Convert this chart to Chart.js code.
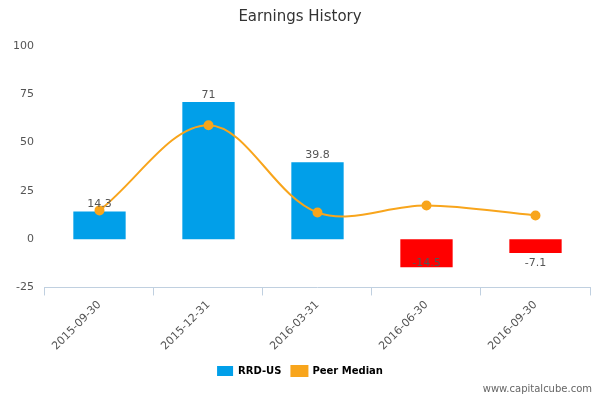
<html lang="en">
<head>
    <meta charset="UTF-8">
    <title>Earnings History</title>
    <script src="https://cdn.jsdelivr.net/npm/chart.js"></script>
    <style>
        body { margin: 0; background: #fff; }
        #wrap { position: relative; width: 600px; height: 400px; }
        #site { position: absolute; right: 8px; bottom: 6px; font: 10px "DejaVu Sans", sans-serif; color: #666; }
    </style>
</head>
<body>
<div id="wrap">
    <canvas id="grafico" width="600" height="400"></canvas>
    <div id="site">www.capitalcube.com</div>
</div>
<script>
    const periodos = ['2015-09-30', '2015-12-31', '2016-03-31', '2016-06-30', '2016-09-30'];
    const rrd = [14.3, 71, 39.8, -14.5, -7.1];
    const mediana = [14.9, 59, 13.8, 17.4, 12.3];
    const ticksY = [100, 75, 50, 25, 0, -25];

    // rotulos das barras
    const rotulos = {
        id: 'rotulos',
        afterDatasetsDraw(chart) {
            const ctx = chart.ctx;
            const meta = chart.getDatasetMeta(1);
            const zero = chart.scales.y.getPixelForValue(0);
            ctx.save();
            ctx.font = '11px "DejaVu Sans", sans-serif';
            ctx.fillStyle = '#555';
            ctx.textAlign = 'center';
            meta.data.forEach((bar, i) => {
                const v = rrd[i];
                const y = v >= 0 ? bar.y - 7 : zero + 24;
                ctx.fillText(String(v), bar.x, y);
            });
            ctx.restore();
        }
    };

    new Chart(document.getElementById('grafico'), {
        data: {
            labels: periodos,
            datasets: [{
                type: 'line',
                label: 'Peer Median',
                data: mediana,
                borderColor: '#f8a51c',
                backgroundColor: '#f8a51c',
                borderWidth: 2,
                tension: 0.35,
                pointRadius: 4,
                order: 0
            }, {
                type: 'bar',
                label: 'RRD-US',
                data: rrd,
                backgroundColor: rrd.map(v => v >= 0 ? '#019fe9' : '#ff0000'),
                barPercentage: 0.48,
                categoryPercentage: 1,
                order: 1
            }]
        },
        options: {
            responsive: false,
            animation: false,
            layout: { padding: { left: 10, right: 10, top: 0, bottom: 14 } },
            plugins: {
                title: {
                    display: true, text: 'Earnings History', color: '#333',
                    font: { size: 15, weight: 'normal', family: '"DejaVu Sans", sans-serif' },
                    padding: { top: 8, bottom: 20 }
                },
                legend: {
                    position: 'bottom',
                    labels: {
                        color: '#333', font: { size: 10, weight: 'bold', family: '"DejaVu Sans", sans-serif' },
                        boxWidth: 16, boxHeight: 10,
                        generateLabels(chart) {
                            return [{
                                text: 'RRD-US', fillStyle: '#019fe9', strokeStyle: '#019fe9', lineWidth: 0, datasetIndex: 1
                            }, {
                                text: 'Peer Median', fillStyle: '#f8a51c', strokeStyle: '#f8a51c', lineWidth: 2,
                                datasetIndex: 0
                            }];
                        }
                    }
                },
                tooltip: { enabled: false }
            },
            scales: {
                x: {
                    offset: true,
                    grid: { display: true, offset: true, drawOnChartArea: false, color: '#c0d0e0', tickLength: 8 },
                    border: { color: '#c0d0e0' },
                    ticks: { color: '#555', maxRotation: 45, minRotation: 45, font: { size: 11, family: '"DejaVu Sans", sans-serif' } }
                },
                y: {
                    min: -25, max: 100,
                    afterBuildTicks(axis) { axis.ticks = ticksY.map(v => ({ value: v })); },
                    grid: { display: false },
                    border: { display: false },
                    ticks: { color: '#555', font: { size: 11, family: '"DejaVu Sans", sans-serif' } }
                }
            }
        },
        plugins: [rotulos]
    });
</script>
</body>
</html>
